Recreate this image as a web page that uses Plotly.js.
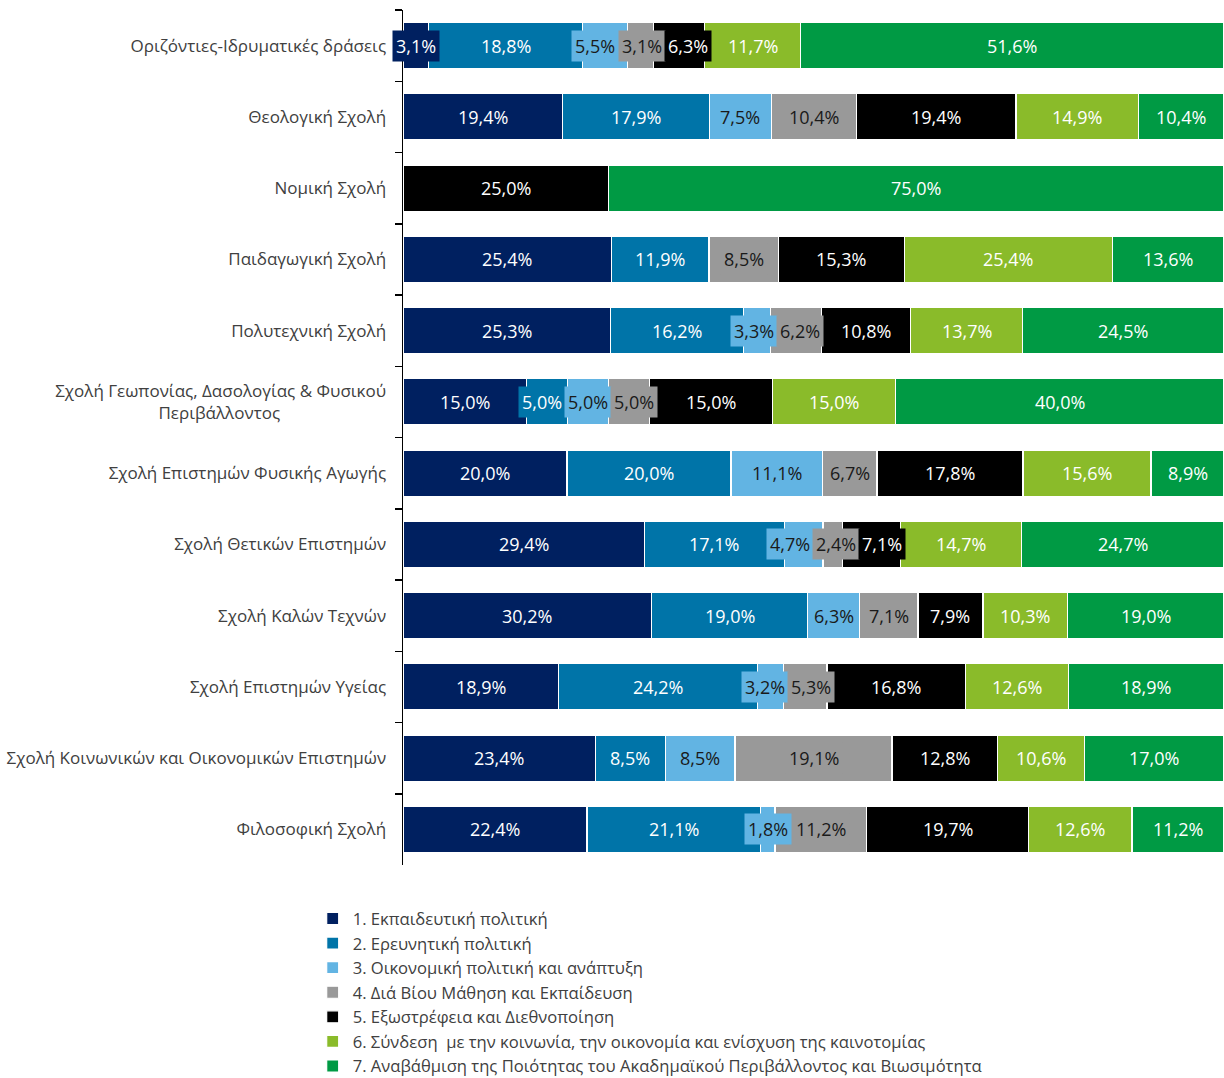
<!DOCTYPE html>
<html>
<head>
<meta charset="utf-8">
<script src="https://cdn.plot.ly/plotly-3.0.1.min.js"></script>
<style>html,body{margin:0;padding:0;background:#fff;}#chart{width:1224px;height:1078px;}</style>
</head>
<body>
<div id="chart"></div>
<script>
const categories = [
  "Οριζόντιες-Ιδρυματικές δράσεις",
  "Θεολογική Σχολή",
  "Νομική Σχολή",
  "Παιδαγωγική Σχολή",
  "Πολυτεχνική Σχολή",
  "Σχολή Γεωπονίας, Δασολογίας & Φυσικού<br>Περιβάλλοντος" + "&nbsp;".repeat(24),
  "Σχολή Επιστημών Φυσικής Αγωγής",
  "Σχολή Θετικών Επιστημών",
  "Σχολή Καλών Τεχνών",
  "Σχολή Επιστημών Υγείας",
  "Σχολή Κοινωνικών και Οικονομικών Επιστημών",
  "Φιλοσοφική Σχολή"
];
const seriesNames = [
  "1. Εκπαιδευτική πολιτική",
  "2. Ερευνητική πολιτική",
  "3. Οικονομική πολιτική και ανάπτυξη",
  "4. Διά Βίου Μάθηση και Εκπαίδευση",
  "5. Εξωστρέφεια και Διεθνοποίηση",
  "6. Σύνδεση  με την κοινωνία, την οικονομία και ενίσχυση της καινοτομίας",
  "7. Αναβάθμιση της Ποιότητας του Ακαδημαϊκού Περιβάλλοντος και Βιωσιμότητα"
];
const s1 = [3.1, 19.4, 0, 25.4, 25.3, 15.0, 20.0, 29.4, 30.2, 18.9, 23.4, 22.4];
const s2 = [18.8, 17.9, 0, 11.9, 16.2, 5.0, 20.0, 17.1, 19.0, 24.2, 8.5, 21.1];
const s3 = [5.5, 7.5, 0, 0, 3.3, 5.0, 11.1, 4.7, 6.3, 3.2, 8.5, 1.8];
const s4 = [3.1, 10.4, 0, 8.5, 6.2, 5.0, 6.7, 2.4, 7.1, 5.3, 19.1, 11.2];
const s5 = [6.3, 19.4, 25.0, 15.3, 10.8, 15.0, 17.8, 7.1, 7.9, 16.8, 12.8, 19.7];
const s6 = [11.7, 14.9, 0, 25.4, 13.7, 15.0, 15.6, 14.7, 10.3, 12.6, 10.6, 12.6];
const s7 = [51.6, 10.4, 75.0, 13.6, 24.5, 40.0, 8.9, 24.7, 19.0, 18.9, 17.0, 11.2];

const series = [s1, s2, s3, s4, s5, s6, s7];
const colors = ["#002060", "#0074A8", "#62B4E3", "#999999", "#000000", "#8ABB2A", "#009A44"];
const textColors = ["#ffffff", "#ffffff", "#1a1a1a", "#1a1a1a", "#ffffff", "#ffffff", "#ffffff"];

const FONT = "Open Sans, Noto Sans, sans-serif";
const LABEL_SIZE = 18;
const PAD = 3;
const W = 1224, H = 1078;
const margin = {l: 403, r: 0, t: 10, b: 213};
const pxPerUnit = (W - margin.l - margin.r) / 100;

const traces = series.map((vals, k) => ({
  type: "bar",
  orientation: "h",
  name: seriesNames[k],
  y: categories,
  x: vals,
  marker: {color: colors[k], line: {color: "#ffffff", width: 1.2}},
  hoverinfo: "skip"
}));

// measure label text widths
const ctx = document.createElement("canvas").getContext("2d");
ctx.font = LABEL_SIZE + "px 'Open Sans'";

const annotations = [];
categories.forEach((cat, i) => {
  const total = series.reduce((a, s) => a + s[i], 0);
  let cum = 0;
  const labels = [];
  series.forEach((s, k) => {
    const v = s[i];
    if (v > 0) {
      const text = v.toFixed(1).replace(".", ",") + "%";
      const mid = (cum + v / 2) / total * 100;
      const px = mid * pxPerUnit;
      labels.push({k, text, mid, px0: px, px, hw: ctx.measureText(text).width / 2});
    }
    cum += v;
  });
  // simple collision avoidance between neighbouring labels
  for (let it = 0; it < 40; it++) {
    for (let j = 0; j < labels.length - 1; j++) {
      const a = labels[j], b = labels[j + 1];
      const need = a.hw + b.hw + PAD + 3;
      const d = b.px - a.px;
      if (d < need) {
        const sh = (need - d) / 2;
        a.px -= sh; b.px += sh;
      }
    }
  }
  labels.forEach(L => {
    annotations.push({
      x: L.mid, y: cat, xref: "x", yref: "y",
      xshift: L.px - L.px0,
      text: L.text,
      showarrow: false,
      bgcolor: colors[L.k],
      borderpad: PAD,
      font: {family: FONT, size: LABEL_SIZE, color: textColors[L.k]}
    });
  });
});

const layout = {
  width: W, height: H,
  margin: margin,
  paper_bgcolor: "#ffffff", plot_bgcolor: "#ffffff",
  barmode: "stack",
  barnorm: "percent",
  bargap: 0.354,
  showlegend: true,
  font: {family: FONT, color: "#404040"},
  xaxis: {range: [0, 100], visible: false, fixedrange: true},
  yaxis: {
    type: "category",
    autorange: "reversed",
    tickson: "boundaries",
    ticks: "outside", ticklen: 7, tickcolor: "#000000", tickwidth: 1.5,
    showline: true, linecolor: "#000000", linewidth: 1.5,
    showgrid: false, zeroline: false,
    tickfont: {family: FONT, size: 17, color: "#404040"},
    ticklabelstandoff: 12
  },
  legend: {
    xref: "paper", x: -0.110, xanchor: "left",
    yref: "container", y: 0.164, yanchor: "top",
    traceorder: "normal",
    font: {family: FONT, size: 16.6, color: "#404040"},
    tracegroupgap: 0, itemclick: false
  },
  annotations: annotations
};

Plotly.newPlot("chart", traces, layout, {displayModeBar: false, staticPlot: true});
</script>
</body>
</html>
